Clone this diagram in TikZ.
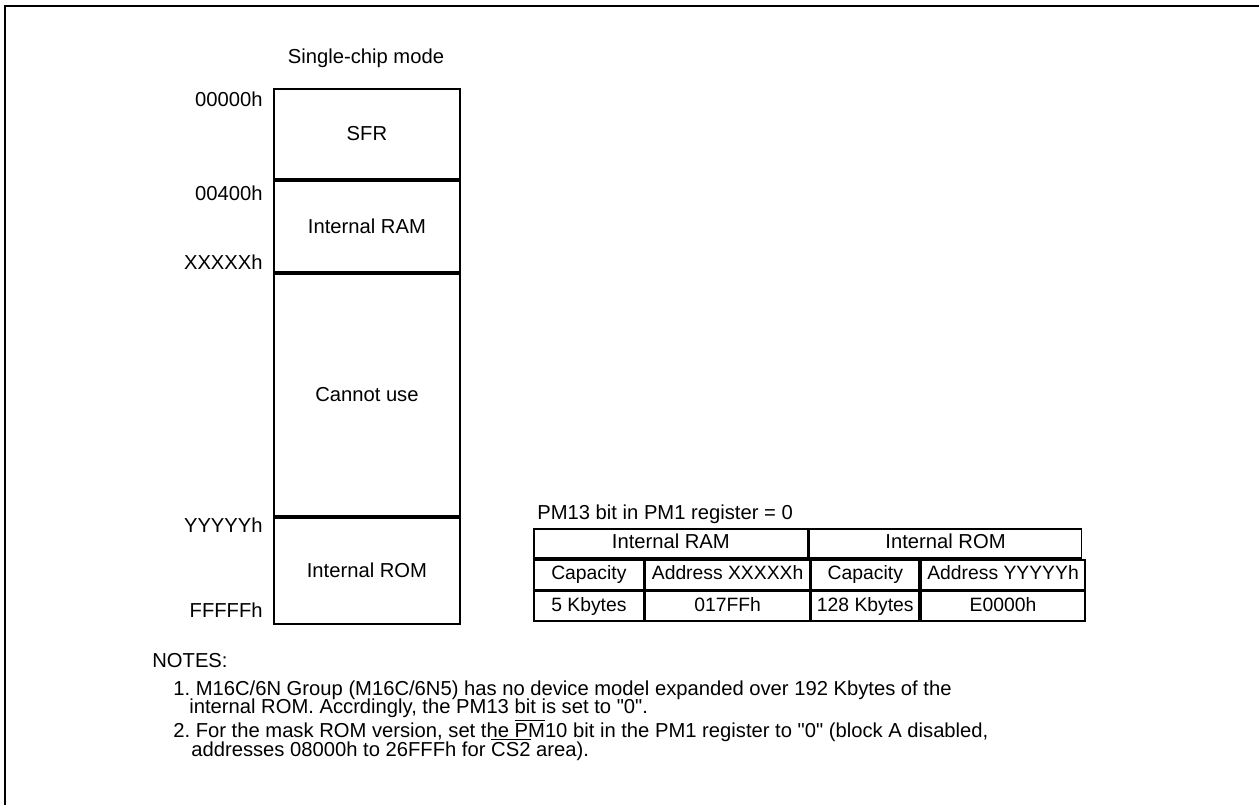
\documentclass[tikz,border=0pt]{standalone}
\usepackage{fontspec}
\newfontfamily\chinh{Liberation Sans}
\usetikzlibrary{positioning}
\frenchspacing
\newcommand\chu{\chinh\fontsize{11.5}{13.8}\selectfont}
\newcommand\chubang{\chinh\fontsize{11}{13}\selectfont}
% gach tren (PM, CS2)
\newcommand\gach[1]{\vbox{\hrule height 0.6pt\kern 1.2pt\hbox{#1}}}
\def\Lmode{Single-chip mode}
\def\Lsfr{SFR}
\def\Lram{Internal RAM}
\def\Lcannot{Cannot use}
\def\Lrom{Internal ROM}
\def\Lcaption{PM13 bit in PM1 register = 0}
\def\Lnoteone{1. M16C/6N Group (M16C/6N5) has no device model expanded over 192 Kbytes of the}
\def\Lnoteonb{internal ROM. Accrdingly, the PM13 bit is set to "0".}
\def\Lnotetwo{2. For the mask ROM version, set the \gach{PM}10 bit in the PM1 register to "0" (block A disabled,}
\def\Lnotetwb{addresses 08000h to 26FFFh for \gach{CS2} area).}

\begin{document}
\begin{tikzpicture}[
  x=0.02cm, y=-0.02cm, font=\chu,
  vung/.style={
    draw, line width=1.1pt, anchor=north west, inner sep=0pt,
    minimum width=3.72cm
  },
  nhan/.style={anchor=east, inner sep=0pt},
  oban/.style={
    draw, line width=1pt, anchor=north west, inner sep=0pt,
    minimum height=0.59cm, text height=8pt, text depth=2.4pt, font=\chubang
  },
  ghichu/.style={anchor=base west, inner sep=0pt}
]
\useasboundingbox (0,0) rectangle (1259,805);

% -- khung ngoai: chi co canh tren va canh trai --
\draw[line width=1.2pt] (5,805) -- (5,6) -- (1259,6);

% -- ban do bo nho --
\node (tieude) at (366,58) {\Lmode};
\node[vung, minimum height=1.80cm] (sfr) at (273,88) {\Lsfr};
\node[vung, minimum height=1.82cm] (ram) at (sfr.south west) {\Lram};
\node[vung, minimum height=4.84cm] (cam) at (ram.south west) {\Lcannot};
\node[vung, minimum height=2.12cm] (rom) at (cam.south west) {\Lrom};

% dia chi ben trai
\node[nhan] (d0) at (263,99)  {00000h};
\node[nhan] (d1) at (263,193) {00400h};
\node[nhan] (d2) at (263,262) {XXXXXh};
\node[nhan] (d3) at (263,525) {YYYYYh};
\node[nhan] (d4) at (263,610) {FFFFFh};

% -- bang PM13 --
\node[ghichu] (chuthich) at (537,519) {\Lcaption};
\node[oban, minimum width=5.48cm, font=\chu] (hram) at (533,528) {\Lram};
\node[oban, minimum width=5.44cm, font=\chu] (hrom) at (hram.north east) {\Lrom};

\node[oban, minimum width=2.20cm] (capram) at (hram.south west) {Capacity};
\node[oban, minimum width=3.28cm] (addram) at (capram.north east) {Address XXXXXh};
\node[oban, minimum width=2.16cm] (caprom) at (addram.north east) {Capacity};
\node[oban, minimum width=3.28cm] (addrom) at (caprom.north east) {Address YYYYYh};

\node[oban, minimum width=2.20cm] (vcapram) at (capram.south west) {5 Kbytes};
\node[oban, minimum width=3.28cm] (vaddram) at (vcapram.north east) {017FFh};
\node[oban, minimum width=2.16cm] (vcaprom) at (vaddram.north east) {128 Kbytes};
\node[oban, minimum width=3.28cm] (vaddrom) at (vcaprom.north east) {E0000h};

% -- ghi chu --
\node[ghichu] (notes) at (152,667) {NOTES:};
\node[ghichu] (n1a) at (173,695) {\Lnoteone};
\node[ghichu] (n1b) at (189,713) {\Lnoteonb};
\node[ghichu] (n2a) at (173,737) {\Lnotetwo};
\node[ghichu] (n2b) at (191,756) {\Lnotetwb};

\end{tikzpicture}
\end{document}
